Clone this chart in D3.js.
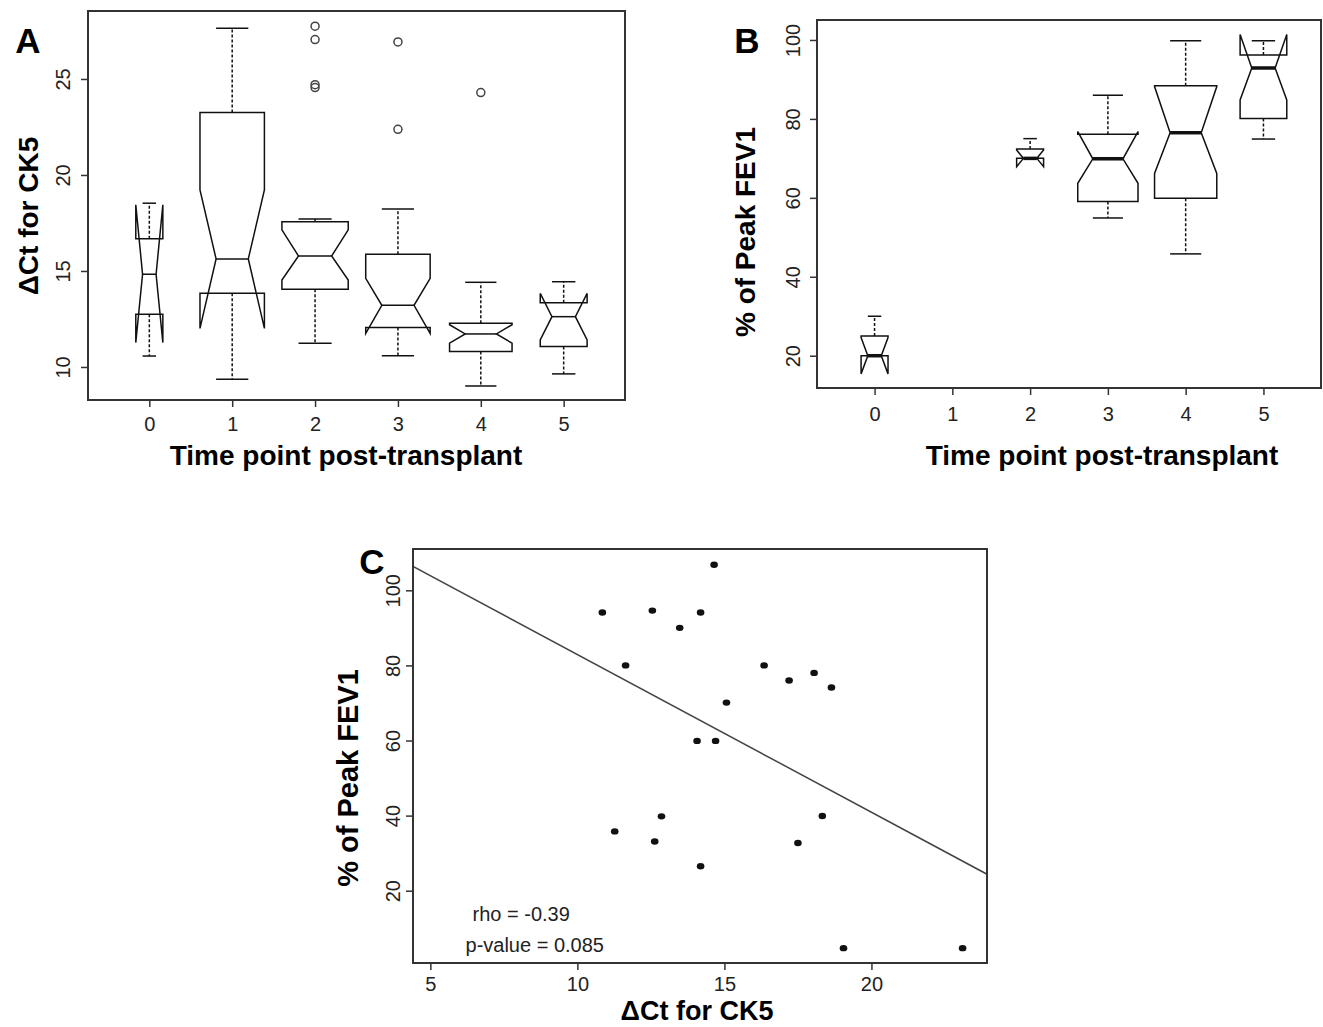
<!DOCTYPE html>
<html>
<head>
<meta charset="utf-8">
<script src="https://cdn.jsdelivr.net/npm/d3@7"></script>
<style>
  body { margin: 0; background: #fff; }
  svg { display: block; font-family: "Liberation Sans", Arial, sans-serif; }
</style>
</head>
<body>
<svg id="fig" width="1323" height="1027"></svg>
<script>
// --- Data ------------------------------------------------------------
const timePoints = [0, 1, 2, 3, 4, 5];

// Panel A: dCt for CK5, boxplot stats per time point
const ckN       = [3, 17, 18, 17, 16, 9];
const ckLow     = [10.57, 9.36, 11.23, 10.59, 9.01, 9.64];
const ckQ1      = [12.74, 13.84, 14.05, 12.05, 10.80, 11.06];
const ckMedian  = [14.83, 15.63, 15.78, 13.21, 11.72, 12.62];
const ckQ3      = [16.68, 23.26, 17.57, 15.87, 12.28, 13.35];
const ckHigh    = [18.53, 27.64, 17.71, 18.23, 14.41, 14.44];
const ckNotchLo = [11.27, 12.01, 14.53, 11.75, 11.24, 11.41];
const ckNotchHi = [18.45, 19.22, 17.14, 14.62, 12.20, 13.83];
const ckOutliers = [[2, 27.75], [2, 27.05], [2, 24.70], [2, 24.55], [3, 26.93], [3, 22.38], [4, 24.29]];

// Panel B: % of peak FEV1 per time point (no data at time point 1)
const fevN       = [3, 0, 3, 15, 16, 9];
const fevLow     = [20, null, 70, 54.9, 45.8, 74.9];
const fevQ1      = [20, null, 70, 59.1, 59.9, 80.1];
const fevMedian  = [20, null, 70, 69.9, 76.5, 92.9];
const fevQ3      = [25, null, 72.4, 76.1, 88.4, 96.2];
const fevHigh    = [30, null, 75, 86.0, 99.8, 99.8];
const fevNotchLo = [15.4, null, 67.9, 63.7, 66.2, 84.8];
const fevNotchHi = [24.6, null, 72.1, 76.8, 88.2, 101.4];

// Panel C: dCt vs % of peak FEV1
const scatterCt  = [10.85, 12.55, 13.48, 14.19, 14.65, 11.64, 16.35, 17.20, 18.05, 18.64, 15.07,
                    14.07, 14.70, 11.27, 12.63, 12.86, 14.19, 17.50, 18.33, 19.05, 23.10];
const scatterFev = [94.1, 94.6, 90.0, 94.1, 106.8, 80.0, 80.0, 76.0, 78.0, 74.1, 70.1,
                    59.9, 59.9, 35.8, 33.1, 39.8, 26.5, 32.7, 39.9, 4.7, 4.7];
const fitIntercept = 124.9;
const fitSlope = -4.2;
const statLabels = [{text: "rho = -0.39", x: 8.09, y: 13.9}, {text: "p-value = 0.085", x: 8.55, y: 5.6}];

// --- Helpers ---------------------------------------------------------
const svg = d3.select("#fig");

function toStats(n, lo, q1, med, q3, hi, nlo, nhi) {
  return timePoints.map((t, i) => ({
    t: t, n: n[i], lo: lo[i], q1: q1[i], med: med[i], q3: q3[i], hi: hi[i], nlo: nlo[i], nhi: nhi[i]
  }));
}

function label(x, y, txt, size, bold, rotate) {
  return svg.append("text")
    .attr("transform", "translate(" + x + "," + y + ")" + (rotate ? " rotate(-90)" : ""))
    .attr("text-anchor", "middle")
    .attr("dy", "0.36em")
    .style("font-size", size + "px")
    .style("font-weight", bold ? "bold" : "normal")
    .attr("fill", "#000")
    .text(txt);
}

function frame(x, y) {
  const [x0, x1] = x.range(), [y0, y1] = y.range();
  svg.append("rect")
    .attr("x", x0).attr("y", y1)
    .attr("width", x1 - x0).attr("height", y0 - y1)
    .attr("fill", "none").attr("stroke", "#333").attr("stroke-width", 2);
}

// R style axes: outward ticks, y labels rotated parallel to the axis
function axes(x, y, xTicks, yTicks, xOff, yOff) {
  const gx = svg.append("g")
    .attr("transform", "translate(0," + y.range()[0] + ")")
    .call(d3.axisBottom(x).tickValues(xTicks).tickSize(7).tickFormat(d3.format("d")));
  gx.selectAll(".tick text").attr("y", xOff).attr("dy", "0.36em");

  const gy = svg.append("g")
    .attr("transform", "translate(" + x.range()[0] + ",0)")
    .call(d3.axisLeft(y).tickValues(yTicks).tickSize(7).tickFormat(d3.format("d")));
  gy.selectAll(".tick text")
    .attr("x", 0).attr("y", 0).attr("dy", "0.36em")
    .attr("text-anchor", "middle")
    .attr("transform", "translate(" + (-yOff) + ",0) rotate(-90)");

  [gx, gy].forEach(g => {
    g.select(".domain").remove();
    g.selectAll(".tick line").attr("stroke", "#333").attr("stroke-width", 1.5);
    g.selectAll(".tick text")
      .style("font-size", "20px")
      .style("font-family", "\"Liberation Sans\", Arial, sans-serif")
      .attr("fill", "#222");
  });
}

// notched boxplots, box width ~ sqrt(n) like varwidth = TRUE
function boxes(stats, x, y, medWidth) {
  const maxN = d3.max(stats, d => d.n);
  const unit = 0.8 * (x(1) - x(0));
  const g = svg.append("g").attr("fill", "none").attr("stroke", "#111");

  stats.filter(d => d.n > 0).forEach(d => {
    const cx = x(d.t);
    const w = unit * Math.sqrt(d.n / maxN) / 2;

    // whiskers
    [[d.q3, d.hi], [d.q1, d.lo]].forEach(([a, b]) => {
      if (a === b) return;
      g.append("line")
        .attr("x1", cx).attr("x2", cx).attr("y1", y(a)).attr("y2", y(b))
        .attr("stroke-width", 1.5).attr("stroke-dasharray", "3,2");
    });
    [d.hi, d.lo].forEach(v => {
      g.append("line")
        .attr("x1", cx - w / 2).attr("x2", cx + w / 2).attr("y1", y(v)).attr("y2", y(v))
        .attr("stroke-width", 1.5);
    });

    const pts = [
      [cx - w, d.q1], [cx + w, d.q1], [cx + w, d.nlo], [cx + w / 2, d.med], [cx + w, d.nhi],
      [cx + w, d.q3], [cx - w, d.q3], [cx - w, d.nhi], [cx - w / 2, d.med], [cx - w, d.nlo]
    ];
    g.append("polygon")
      .attr("points", pts.map(p => p[0] + "," + y(p[1])).join(" "))
      .attr("fill", "#fff")
      .attr("stroke-width", 1.5)
      .attr("stroke-linejoin", "miter");

    g.append("line")
      .attr("x1", cx - w / 2).attr("x2", cx + w / 2)
      .attr("y1", y(d.med)).attr("y2", y(d.med))
      .attr("stroke-width", medWidth);
  });
}

// --- Panel A ---------------------------------------------------------
const xA = d3.scaleLinear().domain([-0.74, 5.74]).range([88, 625]);
const yA = d3.scaleLinear().domain([8.28, 28.54]).range([400, 11]);

boxes(toStats(ckN, ckLow, ckQ1, ckMedian, ckQ3, ckHigh, ckNotchLo, ckNotchHi), xA, yA, 1.5);

svg.append("g").selectAll("circle")
  .data(ckOutliers)
  .join("circle")
  .attr("cx", d => xA(d[0]))
  .attr("cy", d => yA(d[1]))
  .attr("r", 4)
  .attr("fill", "none")
  .attr("stroke", "#444")
  .attr("stroke-width", 1.5);

frame(xA, yA);
axes(xA, yA, timePoints, [10, 15, 20, 25], 24, 25);
label(28, 216, "ΔCt for CK5", 28, true, true);
label(346, 455, "Time point post-transplant", 28, true, false);
label(28, 40, "A", 35, true, false);

// --- Panel B ---------------------------------------------------------
const xB = d3.scaleLinear().domain([-0.74, 5.74]).range([817, 1321]);
const yB = d3.scaleLinear().domain([11.82, 105.06]).range([388, 20]);

boxes(toStats(fevN, fevLow, fevQ1, fevMedian, fevQ3, fevHigh, fevNotchLo, fevNotchHi), xB, yB, 3.5);

frame(xB, yB);
axes(xB, yB, timePoints, [20, 40, 60, 80, 100], 26, 24);
label(745, 232, "% of Peak FEV1", 28, true, true);
label(1102, 455, "Time point post-transplant", 28, true, false);
label(747, 40, "B", 35, true, false);

// --- Panel C ---------------------------------------------------------
const xC = d3.scaleLinear().domain([4.41, 23.93]).range([413, 987]);
const yC = d3.scaleLinear().domain([0.75, 111.0]).range([963, 549]);

svg.append("clipPath").attr("id", "clipC")
  .append("rect")
  .attr("x", 413).attr("y", 549).attr("width", 987 - 413).attr("height", 963 - 549);

const fitX = xC.domain();
svg.append("line")
  .attr("clip-path", "url(#clipC)")
  .attr("x1", xC(fitX[0])).attr("y1", yC(fitIntercept + fitSlope * fitX[0]))
  .attr("x2", xC(fitX[1])).attr("y2", yC(fitIntercept + fitSlope * fitX[1]))
  .attr("stroke", "#444")
  .attr("stroke-width", 1.5);

svg.append("g").selectAll("ellipse")
  .data(scatterCt.map((c, i) => [c, scatterFev[i]]))
  .join("ellipse")
  .attr("cx", d => xC(d[0]))
  .attr("cy", d => yC(d[1]))
  .attr("rx", 3.8)
  .attr("ry", 3.2)
  .attr("fill", "#111");

statLabels.forEach(s => {
  label(xC(s.x), yC(s.y), s.text, 20, false, false).attr("fill", "#222");
});

frame(xC, yC);
axes(xC, yC, [5, 10, 15, 20], [20, 40, 60, 80, 100], 21, 20);
label(348, 778, "% of Peak FEV1", 29, true, true);
label(697, 1010, "ΔCt for CK5", 27, true, false);
label(372, 561, "C", 35, true, false);
</script>
</body>
</html>
